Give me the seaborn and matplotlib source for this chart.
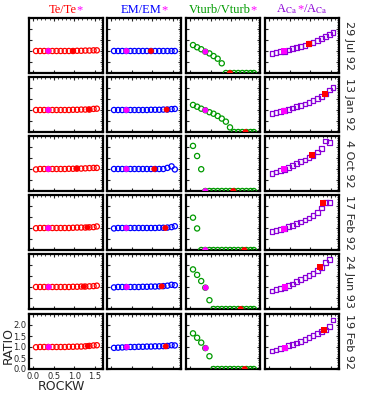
#!/usr/bin/env python3
"""
Line-profile fit ratios versus ROCKW for six observation dates
"""

import numpy as np
import pandas as pd
import matplotlib
matplotlib.use('Agg')
import matplotlib.pyplot as plt
import seaborn as sns
from matplotlib.ticker import MultipleLocator, FixedLocator, NullFormatter
from matplotlib.offsetbox import TextArea, HPacker, AnchoredOffsetbox

# ---- data ----
dates = ['29 Jul 92', '13 Jan 92', '4 Oct 92', '17 Feb 92', '24 Jun 93', '19 Feb 92']

rockw = [0.07, 0.17, 0.27, 0.37, 0.47, 0.57, 0.67, 0.77,
         0.87, 0.97, 1.07, 1.17, 1.27, 1.37, 1.47, 1.55]

te_ratio = [
    [1.00, 1.00, 1.00, 1.00, 1.00, 1.00, 1.00, 1.00, 1.00, 1.00, 1.01, 1.01, 1.02, 1.02, 1.03, 1.03],
    [1.00, 1.00, 1.00, 1.00, 1.00, 1.00, 1.00, 1.00, 1.00, 1.01, 1.01, 1.02, 1.02, 1.02, 1.05, 1.06],
    [0.98, 1.00, 1.00, 1.00, 1.00, 1.00, 1.00, 1.00, 1.01, 1.01, 1.02, 1.02, 1.03, 1.04, 1.05, 1.05],
    [0.99, 1.00, 1.00, 1.00, 1.00, 1.00, 1.00, 1.00, 1.00, 1.01, 1.02, 1.02, 1.02, 1.03, 1.04, 1.07],
    [1.00, 1.00, 1.00, 1.00, 1.00, 1.00, 1.00, 1.00, 1.00, 1.01, 1.01, 1.02, 1.02, 1.03, 1.04, 1.06],
    [0.99, 1.00, 1.00, 1.00, 1.00, 1.00, 1.00, 1.00, 1.01, 1.01, 1.02, 1.02, 1.03, 1.05, 1.07, 1.08],
]
em_ratio = [
    [1.00, 1.00, 1.00, 1.00, 1.00, 1.00, 1.00, 1.00, 1.00, 1.00, 1.00, 1.00, 1.00, 1.00, 1.00, 1.00],
    [1.00, 1.00, 1.00, 1.00, 1.00, 1.00, 1.00, 1.00, 1.00, 1.01, 1.01, 1.01, 1.02, 1.02, 1.04, 1.05],
    [1.00, 1.00, 1.00, 1.00, 1.00, 1.00, 1.00, 1.00, 1.00, 1.00, 1.00, 1.00, 1.00, 1.05, 1.12, 0.98],
    [0.98, 1.00, 1.00, 1.00, 1.00, 1.00, 1.00, 1.00, 1.00, 1.00, 1.00, 1.01, 1.01, 1.02, 1.04, 1.08],
    [0.98, 1.00, 1.00, 1.00, 1.00, 1.00, 1.00, 1.01, 1.01, 1.02, 1.02, 1.03, 1.04, 1.06, 1.10, 1.08],
    [0.96, 0.97, 0.98, 0.99, 1.00, 1.00, 1.01, 1.01, 1.02, 1.02, 1.03, 1.03, 1.04, 1.05, 1.08, 1.07],
]
vturb_ratio = [
    [1.27, 1.17, 1.08, 0.97, 0.89, 0.77, 0.65, 0.44, 0.00, 0.00, 0.00, 0.00, 0.00, 0.00, 0.00, 0.00],
    [1.23, 1.15, 1.06, 0.99, 0.90, 0.83, 0.73, 0.61, 0.47, 0.21, 0.00, 0.00, 0.00, 0.00, 0.00, 0.00],
    [2.05, 1.59, 0.99, 0.00, 0.00, 0.00, 0.00, 0.00, 0.00, 0.00, 0.00, 0.00, 0.00, 0.00, 0.00, 0.00],
    [1.47, 0.98, 0.00, 0.00, 0.00, 0.00, 0.00, 0.00, 0.00, 0.00, 0.00, 0.00, 0.00, 0.00, 0.00, 0.00],
    [1.80, 1.55, 1.27, 0.97, 0.40, 0.00, 0.00, 0.00, 0.00, 0.00, 0.00, 0.00, 0.00, 0.00, 0.00, 0.00],
    [1.62, 1.42, 1.20, 0.95, 0.58, 0.00, 0.00, 0.00, 0.00, 0.00, 0.00, 0.00, 0.00, 0.00, 0.00, 0.00],
]
aca_ratio = [
    [0.89, 0.92, 0.97, 0.99, 1.05, 1.10, 1.15, 1.20, 1.24, 1.33, 1.39, 1.47, 1.56, 1.65, 1.74, 1.85],
    [0.85, 0.90, 0.94, 0.97, 1.03, 1.09, 1.15, 1.21, 1.27, 1.35, 1.42, 1.51, 1.60, 1.73, 1.91, 2.03],
    [0.80, 0.86, 0.92, 0.99, 1.08, 1.17, 1.26, 1.35, 1.41, 1.53, 1.62, 1.77, 1.92, 2.27, 2.20],
    [0.83, 0.88, 0.94, 0.97, 1.06, 1.12, 1.21, 1.27, 1.36, 1.45, 1.58, 1.70, 1.91, 2.15, 2.15],
    [0.82, 0.89, 0.94, 0.99, 1.06, 1.14, 1.24, 1.35, 1.44, 1.52, 1.62, 1.76, 1.90, 2.11, 2.26],
    [0.82, 0.86, 0.92, 0.95, 1.06, 1.12, 1.18, 1.24, 1.33, 1.42, 1.51, 1.61, 1.71, 1.77, 1.94, 2.23],
]

# highlighted points: magenta (starred model) and red (best fit), per row
star_x = [0.37, 0.37, 0.37, 0.37, 0.38, 0.38]
best_x = [0.97, 1.35, 1.05, 1.32, 1.23, 1.33]
star_y = {
    'te':    [1.00, 1.00, 1.00, 1.00, 1.00, 1.00],
    'em':    [1.00, 1.00, 1.00, 1.00, 1.00, 1.00],
    'vturb': [0.97, 0.99, 0.00, 0.00, 0.97, 0.95],
    'aca':   [0.99, 0.97, 0.99, 0.97, 0.99, 0.95],
}
best_y = {
    'te':    [1.00, 1.03, 1.02, 1.03, 1.02, 1.05],
    'em':    [1.00, 1.02, 1.00, 1.00, 1.03, 1.03],
    'vturb': [0.00, 0.00, 0.00, 0.00, 0.00, 0.00],
    'aca':   [1.33, 1.73, 1.62, 2.15, 1.90, 1.77],
}

x_ticks = [0.0, 0.5, 1.0, 1.5]
y_ticks = [0.0, 0.5, 1.0, 1.5, 2.0]

RED = '#ff0000'
BLUE = '#0000ff'
GREEN = '#009a00'
PURPLE = '#8a00d8'
MAGENTA = '#ff00ff'

columns = [
    ('te', te_ratio, RED, 'o', [('Te/Te', RED), ('*', MAGENTA)]),
    ('em', em_ratio, BLUE, 'o', [('EM/EM', BLUE), ('*', MAGENTA)]),
    ('vturb', vturb_ratio, GREEN, 'o', [('Vturb/Vturb', GREEN), ('*', MAGENTA)]),
    ('aca', aca_ratio, PURPLE, 's', [('A$_{\\rm Ca}$', PURPLE), ('*', MAGENTA), ('/A$_{\\rm Ca}$', PURPLE)]),
]

sns.set_style('ticks')
plt.rcParams['font.family'] = ['DejaVu Sans']
plt.rcParams['mathtext.fontset'] = 'stix'

W, H = 374, 400
col_left = [29, 107, 186, 265]
row_top = [18, 77, 136, 195, 254, 314]
PW, PH = 74, 55


def add_title(ax, parts):
    areas = [TextArea(t, textprops=dict(color=c, fontsize=9, family='Liberation Serif'))
             for t, c in parts]
    box = HPacker(children=areas, align='baseline', pad=0, sep=0)
    anchored = AnchoredOffsetbox(loc='lower center', child=box, pad=0, borderpad=0,
                                 frameon=False, bbox_to_anchor=(0.5, 1.03),
                                 bbox_transform=ax.transAxes)
    ax.add_artist(anchored)


def style_axes(ax, show_labels):
    ax.set_xlim(-0.1, 1.7)
    ax.set_ylim(0, 2.5)
    ax.xaxis.set_major_locator(FixedLocator(x_ticks))
    ax.yaxis.set_major_locator(FixedLocator(y_ticks))
    ax.xaxis.set_minor_locator(MultipleLocator(0.1))
    ax.yaxis.set_minor_locator(MultipleLocator(0.1))
    ax.tick_params(which='major', direction='in', length=2.5, width=0.8,
                   top=True, right=True, labelsize=6, pad=2)
    ax.tick_params(which='minor', direction='in', length=1.3, width=0.6,
                   top=True, right=True, bottom=False, left=False)
    for sp in ax.spines.values():
        sp.set_linewidth(1.6)
        sp.set_color('black')
    ax.set_xlabel('')
    ax.set_ylabel('')
    if show_labels:
        ax.set_xticklabels(['0.0', '0.5', '1.0', '1.5'])
        ax.set_yticklabels(['0.0', '0.5', '1.0', '1.5', '2.0'])
    else:
        ax.xaxis.set_major_formatter(NullFormatter())
        ax.yaxis.set_major_formatter(NullFormatter())


def main():
    fig = plt.figure(figsize=(W / 100, H / 100), dpi=100)

    for r, date in enumerate(dates):
        for c, (key, series, color, marker, title) in enumerate(columns):
            ax = fig.add_axes([col_left[c] / W, 1 - (row_top[r] + PH) / H, PW / W, PH / H])
            vals = series[r]
            df = pd.DataFrame({'rockw': rockw[:len(vals)], 'ratio': vals})
            sns.scatterplot(data=df, x='rockw', y='ratio', ax=ax, marker=marker,
                            s=14 if marker == 'o' else 11, facecolor='none',
                            edgecolor=color, linewidth=0.9, legend=False, zorder=3)
            hl = pd.DataFrame({'rockw': [star_x[r], best_x[r]],
                               'ratio': [star_y[key][r], best_y[key][r]],
                               'kind': ['star', 'best']})
            sns.scatterplot(data=hl, x='rockw', y='ratio', hue='kind',
                            palette={'star': MAGENTA, 'best': RED}, ax=ax,
                            marker=marker, s=18, linewidth=0, legend=False, zorder=4)
            style_axes(ax, show_labels=(r == len(dates) - 1 and c == 0))
            if r == 0:
                add_title(ax, title)
        fig.text(349 / W, 1 - (row_top[r] + PH / 2) / H, date, rotation=270,
                 ha='center', va='center', fontsize=8)

    fig.text(8 / W, 1 - 345 / H, 'RATIO', rotation=90, ha='center', va='center', fontsize=9)
    fig.text(61 / W, 1 - 386 / H, 'ROCKW', ha='center', va='center', fontsize=9)

    fig.savefig('out.png', dpi=100, facecolor='white')


if __name__ == '__main__':
    main()
